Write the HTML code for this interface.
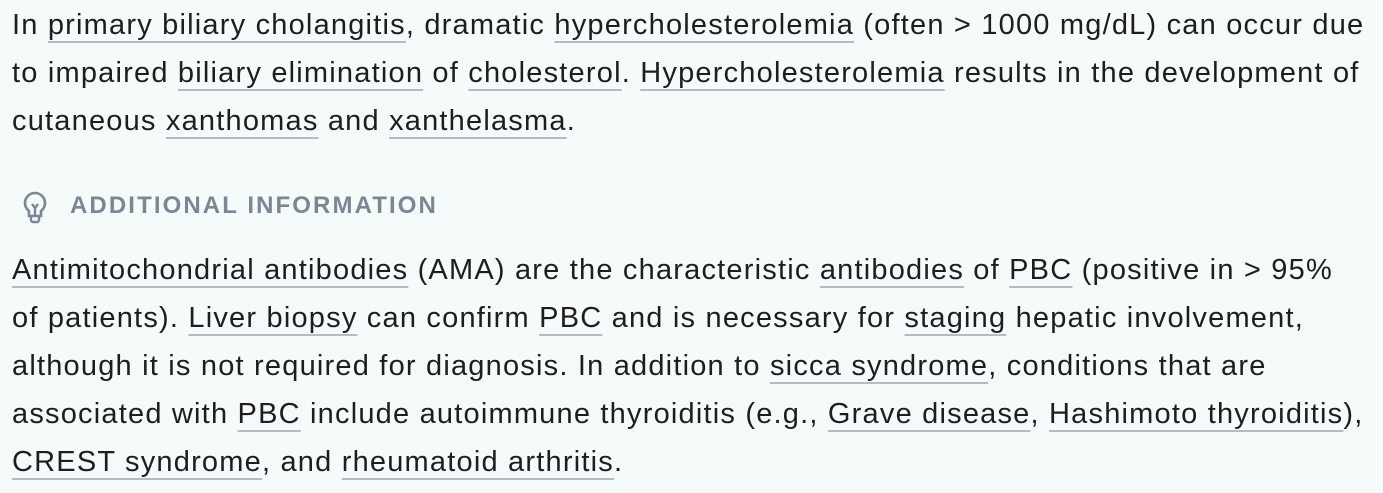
<!DOCTYPE html>
<html><head><meta charset="utf-8"><style>
html,body{margin:0;padding:0;width:1383px;height:493px;overflow:hidden;background:#f5fafa;}
.l{position:absolute;left:12px;height:48px;line-height:48px;white-space:nowrap;font-family:"Liberation Sans",sans-serif;font-size:29px;color:#1e1e1e;letter-spacing:1.2px;}
u{text-decoration:underline;text-decoration-color:#b4bcc3;text-decoration-thickness:2px;text-underline-offset:7px;}
.h{position:absolute;left:70px;top:182px;line-height:48px;font-family:"Liberation Sans",sans-serif;font-weight:bold;font-size:24px;letter-spacing:2.1px;color:#7a8894;}
</style></head><body>
<div>
<div class="l" style="top:1px">In <u>primary biliary cholangitis</u>, dramatic <u>hypercholesterolemia</u> (often &gt; 1000 mg/dL) can occur due</div>
<div class="l" style="top:49px">to impaired <u>biliary elimination</u> of <u>cholesterol</u>. <u>Hypercholesterolemia</u> results in the development of</div>
<div class="l" style="top:97px">cutaneous <u>xanthomas</u> and <u>xanthelasma</u>.</div>
</div>
<svg style="position:absolute;left:20px;top:190px" width="30" height="34" viewBox="0 0 30 34"><path d="M15 3a10 10 0 0 0-6 18v5h12v-5a10 10 0 0 0-6-18z" fill="none" stroke="#7a8894" stroke-width="2.6"/><path d="M11 26v4a2 2 0 0 0 2 2h4a2 2 0 0 0 2-2v-4M12 14l3 4 3-4M15 18v8" fill="none" stroke="#7a8894" stroke-width="2.4"/></svg>
<div class="h">ADDITIONAL INFORMATION</div>
<div>
<div class="l" style="top:246px"><u>Antimitochondrial antibodies</u> (AMA) are the characteristic <u>antibodies</u> of <u>PBC</u> (positive in &gt; 95%</div>
<div class="l" style="top:294px">of patients). <u>Liver biopsy</u> can confirm <u>PBC</u> and is necessary for <u>staging</u> hepatic involvement,</div>
<div class="l" style="top:342px">although it is not required for diagnosis. In addition to <u>sicca syndrome</u>, conditions that are</div>
<div class="l" style="top:390px">associated with <u>PBC</u> include autoimmune thyroiditis (e.g., <u>Grave disease</u>, <u>Hashimoto thyroiditis</u>),</div>
<div class="l" style="top:438px"><u>CREST syndrome</u>, and <u>rheumatoid arthritis</u>.</div>
</div>
</body></html>
